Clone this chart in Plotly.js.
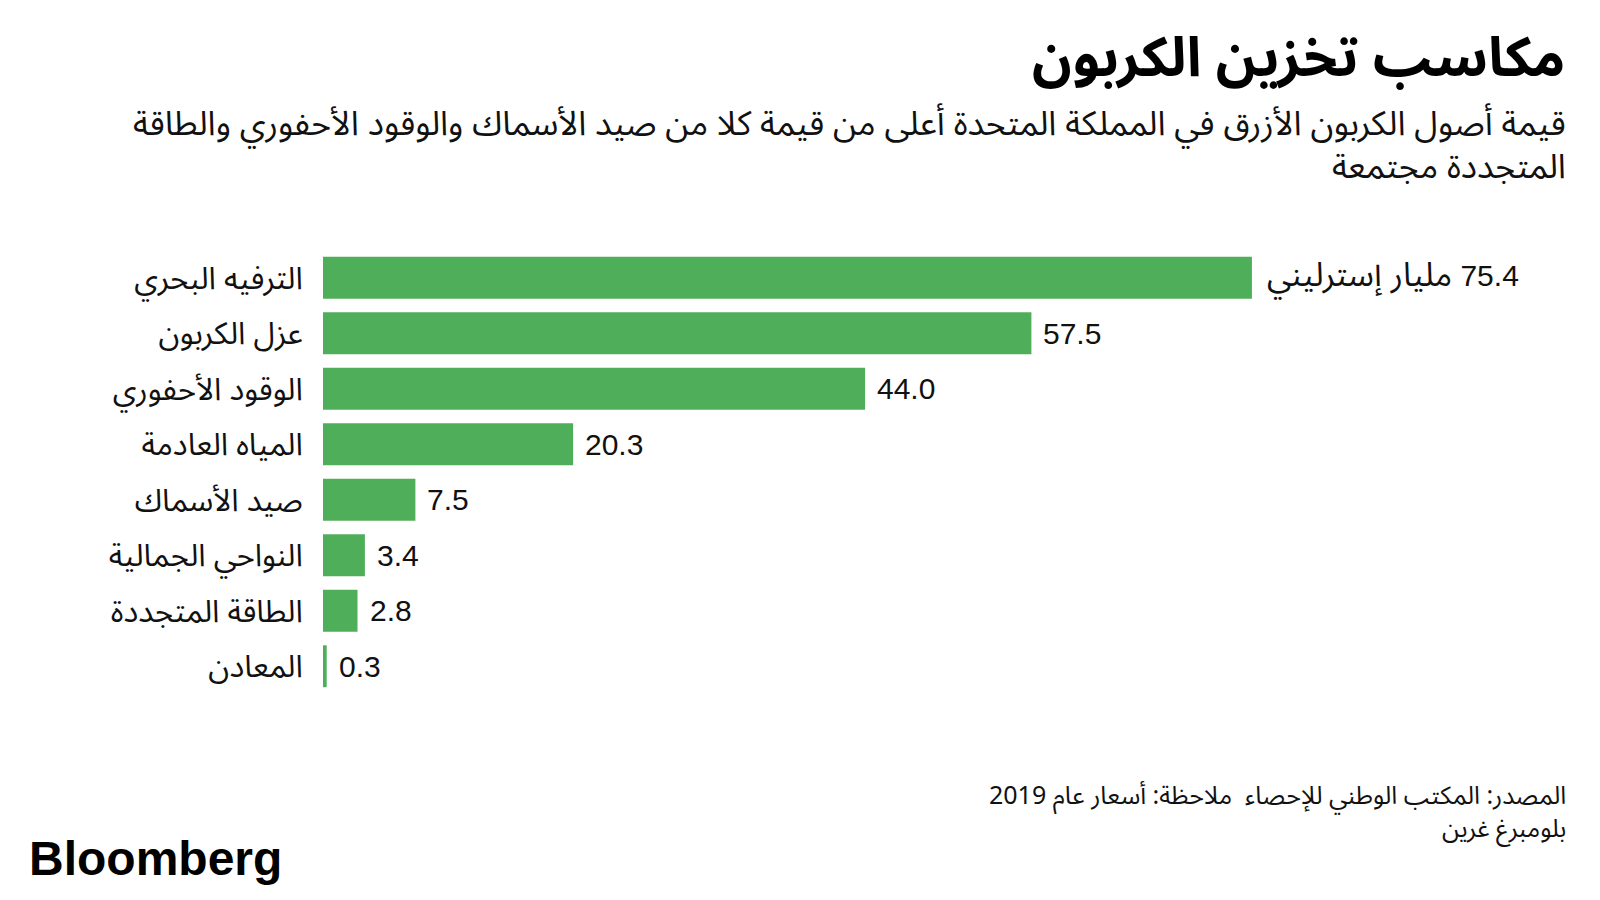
<!DOCTYPE html>
<html>
<head>
<meta charset="utf-8">
<script src="https://cdn.plot.ly/plotly-3.0.1.min.js"></script>
<style>body{margin:0;padding:0;background:#fff;}#chart{width:1600px;height:900px;}</style>
</head>
<body>
<div id="chart"></div>
<script>
// Data
const categories = ["الترفيه البحري", "عزل الكربون", "الوقود الأحفوري", "المياه العادمة", "صيد الأسماك", "النواحي الجمالية", "الطاقة المتجددة", "المعادن"];
const values = [75.4, 57.5, 44.0, 20.3, 7.5, 3.4, 2.8, 0.3];
const valueLabels = ["75.4", "57.5", "44.0", "20.3", "7.5", "3.4", "2.8", "0.3"];
const unitLabel = "مليار إسترليني";
const titleText = "مكاسب تخزين الكربون";
const subtitleLines = ["قيمة أصول الكربون الأزرق في المملكة المتحدة أعلى من قيمة كلا من صيد الأسماك والوقود الأحفوري والطاقة", "المتجددة مجتمعة"];
const footerLines = ["المصدر: المكتب الوطني للإحصاء  ملاحظة: أسعار عام 2019", "بلومبرغ غرين"];
const logoText = "Bloomberg";

const W = 1600, H = 900;
const M = {l: 323, r: 45, t: 250, b: 206};
const PW = W - M.l - M.r, PH = H - M.t - M.b;
const px = x => (x - M.l) / PW;
const py = y => (H - M.b - y) / PH;

const AR = "'Noto Sans Arabic', 'Noto Naskh Arabic', 'DejaVu Sans', sans-serif";
const LAT = "'Liberation Sans', Arial, 'DejaVu Sans', sans-serif";
const green = "#4FAE5A";

const trace = {
  type: 'bar',
  orientation: 'h',
  x: values,
  y: categories,
  marker: {color: green},
  hoverinfo: 'none'
};

const annotations = [];
values.forEach((v, i) => {
  const txt = i === 0
    ? "\u200F" + valueLabels[i] + " <span style='font-size:33px'>" + unitLabel + "</span>"
    : valueLabels[i];
  annotations.push({
    x: v, y: categories[i], xref: 'x', yref: 'y',
    text: txt, showarrow: false,
    xanchor: 'left', yanchor: 'middle', xshift: i === 0 ? 13 : 10,
    font: {family: "'Liberation Sans', 'Noto Sans Arabic', 'DejaVu Sans', sans-serif", size: 30, color: '#111'}
  });
});

annotations.push({
  xref: 'paper', yref: 'paper', x: px(1568), y: py(124),
  text: subtitleLines[0], showarrow: false,
  xanchor: 'right', yanchor: 'middle', align: 'right',
  font: {family: AR, size: 34, color: '#111'}
});
annotations.push({
  xref: 'paper', yref: 'paper', x: px(1568), y: py(167),
  text: subtitleLines[1], showarrow: false,
  xanchor: 'right', yanchor: 'middle', align: 'right',
  font: {family: AR, size: 34, color: '#111'}
});
annotations.push({
  xref: 'paper', yref: 'paper', x: px(1567), y: py(58),
  text: '<b>' + titleText + '</b>', showarrow: false,
  xanchor: 'right', yanchor: 'middle', align: 'right',
  font: {family: AR, size: 55, color: '#000'}
});
annotations.push({
  xref: 'paper', yref: 'paper', x: px(1568), y: py(796),
  text: footerLines[0], showarrow: false,
  xanchor: 'right', yanchor: 'middle', align: 'right',
  font: {family: AR, size: 25, color: '#111'}
});
annotations.push({
  xref: 'paper', yref: 'paper', x: px(1568), y: py(829),
  text: footerLines[1], showarrow: false,
  xanchor: 'right', yanchor: 'middle', align: 'right',
  font: {family: AR, size: 25, color: '#111'}
});
annotations.push({
  xref: 'paper', yref: 'paper', x: px(27), y: py(858),
  text: '<b>' + logoText + '</b>', showarrow: false,
  xanchor: 'left', yanchor: 'middle', align: 'left',
  font: {family: LAT, size: 48, color: '#000'}
});

const layout = {
  width: W, height: H,
  margin: M,
  paper_bgcolor: '#fff', plot_bgcolor: '#fff',
  showlegend: false,
  bargap: 0.245,
  xaxis: {range: [0, 100], visible: false, fixedrange: true},
  yaxis: {
    autorange: 'reversed', showgrid: false, zeroline: false, showline: false,
    ticks: 'outside', ticklen: 13, tickcolor: 'rgba(0,0,0,0)',
    tickfont: {family: AR, size: 31, color: '#111'},
    fixedrange: true
  },
  annotations: annotations
};

Plotly.newPlot('chart', [trace], layout, {displayModeBar: false, staticPlot: true});
</script>
</body>
</html>
